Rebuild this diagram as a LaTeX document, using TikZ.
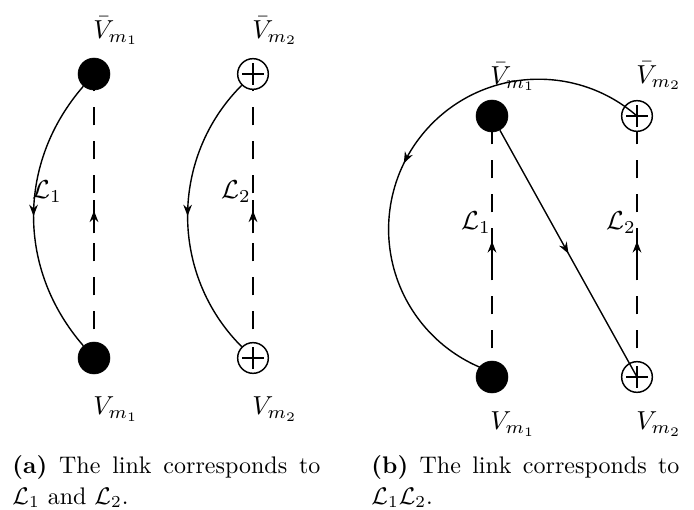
\documentclass[tikz,border=0pt]{standalone}
\usetikzlibrary{arrows.meta,decorations.markings,backgrounds}
\begin{document}
\begin{tikzpicture}[x=0.75pt,y=-0.75pt,
  full/.style={circle,fill=black,draw=black,minimum size=24pt,inner sep=0pt},
  oplusnode/.style={circle,draw=black,fill=white,line width=1.1pt,minimum size=23pt,inner sep=0pt,
    path picture={\draw[line width=1.1pt] ([xshift=-8pt]path picture bounding box.center) -- ([xshift=8pt]path picture bounding box.center);
                  \draw[line width=1.1pt] ([yshift=-8pt]path picture bounding box.center) -- ([yshift=8pt]path picture bounding box.center);}},
  lab/.style={scale=1.95,inner sep=0pt},
  captext/.style={scale=1.8,inner sep=0pt,anchor=base west},
  link/.style={line width=1.05pt},
  dashlink/.style={line width=1.9pt,dash pattern=on 13.5pt off 12pt,dash phase=4pt},
  midarrow/.style={postaction={decorate},decoration={markings,mark=at position #1 with {\arrow{Stealth[length=8.5pt,width=6.5pt]}}}},
  dasharrow/.style={postaction={decorate},decoration={markings,mark=at position 0.5 with {\draw[line width=1.9pt,solid] (-13pt,0) -- (12pt,0); \arrow[xshift=4pt]{Stealth[length=8.5pt,width=6.5pt]}}}}
]
\useasboundingbox (0,0) rectangle (694,510);
% panel (a)
\node[full] (a1t) at (94,74) {};
\node[full] (a1b) at (94,358) {};
\node[oplusnode] (a2t) at (253,74) {};
\node[oplusnode] (a2b) at (253,358) {};
\node[lab] (la1t) at (116,31) {$\bar V_{m_1}$};
\node[lab] (la2t) at (275,31) {$\bar V_{m_2}$};
\node[lab] (la1b) at (116,409) {$V_{m_1}$};
\node[lab] (la2b) at (275,409) {$V_{m_2}$};
\node[lab] (lL1a) at (47,192) {$\mathcal{L}_1$};
\node[lab] (lL2a) at (236,192) {$\mathcal{L}_2$};
\begin{scope}[on background layer]
\draw[dashlink,dasharrow] (a1b.center) -- (a1t.center);
\draw[dashlink,dasharrow] (a2b.center) -- (a2t.center);
\end{scope}
\draw[link,midarrow=0.5] (a1t) to[bend right=41] (a1b);
\draw[link,midarrow=0.5] (a2t) to[bend right=45] (a2b);
% panel (b)
\node[full] (b1t) at (492,116) {};
\node[full] (b1b) at (492,377) {};
\node[oplusnode] (b2t) at (637,116) {};
\node[oplusnode] (b2b) at (637,377) {};
\node[lab] (lb1t) at (513,77) {$\bar V_{m_1}$};
\node[lab] (lb2t) at (659,76) {$\bar V_{m_2}$};
\node[lab] (lb1b) at (513,424) {$V_{m_1}$};
\node[lab] (lb2b) at (659,424) {$V_{m_2}$};
\node[lab] (lL1b) at (476,223) {$\mathcal{L}_1$};
\node[lab] (lL2b) at (621,223) {$\mathcal{L}_2$};
\begin{scope}[on background layer]
\draw[dashlink,dasharrow] (b1b.center) -- (b1t.center);
\draw[dashlink,dasharrow] (b2b.center) -- (b2t.center);
\end{scope}
\draw[link,midarrow=0.53] (b2t.center) arc[start angle=49,end angle=247,radius=112.5pt];
\draw[link,midarrow=0.5] (b1t) -- (b2b.center);
% captions
\node[captext] (capa1) at (12,473) {\makebox[128.3pt][s]{\textbf{(a)} The link corresponds to}};
\node[captext] (capa2) at (12,504) {$\mathcal{L}_1$ and $\mathcal{L}_2$.};
\node[captext] (capb1) at (371,473) {\makebox[128.3pt][s]{\textbf{(b)} The link corresponds to}};
\node[captext] (capb2) at (371,504) {$\mathcal{L}_1\mathcal{L}_2$.};
\end{tikzpicture}
\end{document}
